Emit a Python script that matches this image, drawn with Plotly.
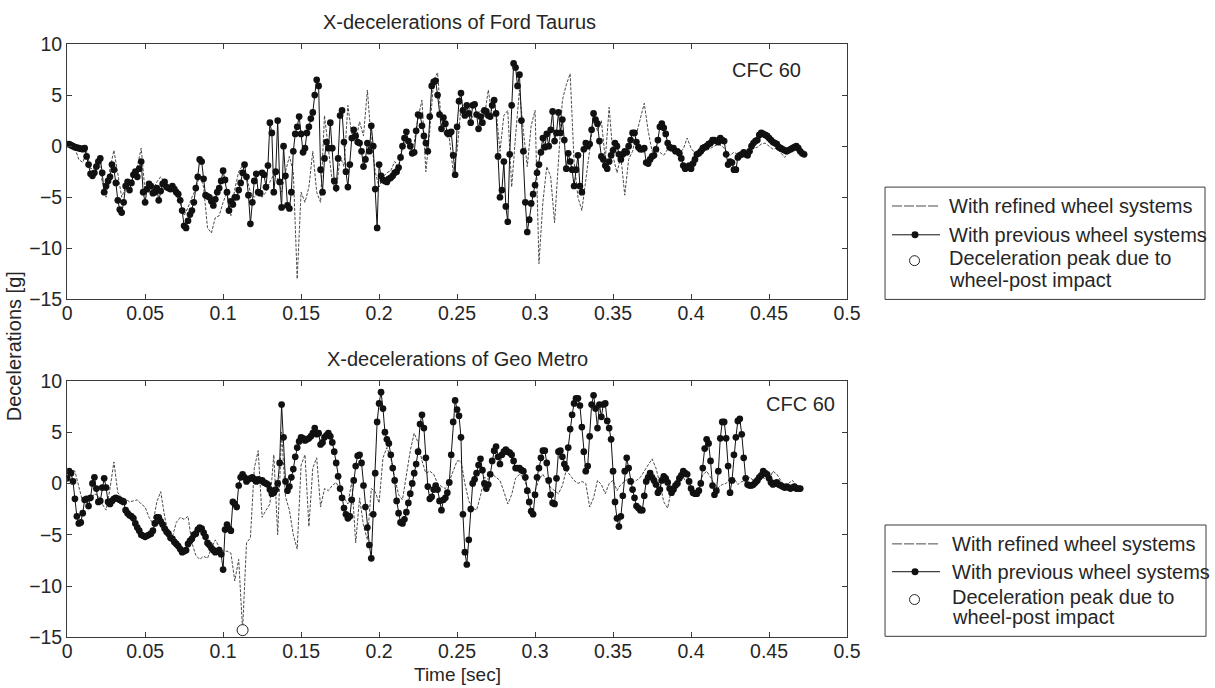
import numpy as np
import plotly.graph_objects as go

# Sampling intervals of the crash-test acceleration records [s]
DT_PREVIOUS = 0.00125
DT_REFINED = 0.0025

# Ford Taurus, x-deceleration [g], CFC 60
taurus_previous = [
    0.2, 0.2, 0.1, 0.0, -0.1, -0.15, -0.2, -0.25, -0.3, -0.2,
    -1.0, -1.8, -2.7, -2.9, -2.6, -2.0, -1.5, -1.2, -2.6, -4.5,
    -3.9, -3.4, -3.0, -1.8, -2.3, -3.6, -5.3, -6.2, -6.5, -5.5,
    -3.9, -3.5, -4.3, -3.6, -2.8, -2.5, -3.0, -2.2, -1.5, -4.5,
    -5.5, -4.2, -3.7, -3.9, -4.6, -4.5, -4.1, -5.3, -4.4, -3.7,
    -3.5, -4.0, -4.1, -4.2, -3.9, -4.2, -4.5, -4.7, -5.3, -6.3,
    -7.8, -8.0, -7.3, -6.7, -6.3, -5.5, -4.1, -3.0, -1.3, -1.5,
    -3.2, -4.8, -4.9, -5.0, -5.4, -5.8, -5.2, -4.5, -4.1, -3.4,
    -2.4, -3.3, -4.5, -6.3, -5.4, -5.7, -5.0, -5.0, -4.3, -3.6,
    -2.6, -1.8, -3.0, -4.8, -7.6, -5.5, -3.4, -2.7, -4.5, -4.6,
    -2.6, -2.8, -4.0, -1.9, 2.3, 1.3, -4.5, -2.5, 2.5, -3.5,
    -6.0, 0.0, -2.9, -5.8, -6.1, -4.5, -0.5, 1.2, 1.9, 2.9,
    1.2, -0.6, -0.2, 1.3, 1.9, 2.7, 3.3, 5.0, 6.5, 5.9,
    -2.3, -4.5, -1.2, 0.4, -0.2, 2.3, -0.2, -3.4, -4.1, -1.2,
    3.0, 3.5, 0.4, -2.5, -4.0, -1.8, 0.8, 1.6, 1.0, 0.4,
    0.3, -0.5, -2.0, -1.3, 0.3, -0.5, 2.0, 0.0, -4.2, -8.0,
    -1.8, -2.9, -3.3, -3.4, -3.5, -3.2, -3.1, -2.9, -2.6, -2.5,
    -2.1, -1.1, 0.0, 0.8, 1.4, 0.5, 0.0, -0.7, -0.6, 1.5,
    3.1, 3.0, 2.0, 1.0, 0.3, -0.5, 2.9, 5.9, 6.3, 6.4,
    5.0, 3.1, 1.7, 2.8, 2.2, 1.3, 1.2, 1.4, -0.9, -2.8,
    1.9, 4.4, 5.2, 3.5, 3.0, 4.0, 3.2, 2.3, 4.0, 4.1,
    3.1, 1.7, 2.9, 2.3, 3.5, 3.4, 3.0, 2.9, 4.0, 4.5,
    3.2, -1.0, -5.0, -4.3, -1.5, -5.9, -7.4, -0.8, 4.0, 8.1,
    7.7, 5.9, 7.0, 2.5, -0.5, -5.5, -8.4, -7.2, -5.6, -4.7,
    -3.8, -2.6, -1.8, -0.6, 0.8, -0.1, 1.2, 0.0, 1.6, 3.4,
    0.5, 1.3, 3.3, 1.3, 2.6, 0.6, -2.2, -0.7, -1.5, -2.3,
    -3.9, -2.3, -0.9, -3.9, -4.5, -0.3, 0.3, 0.0, 0.2, 1.6,
    3.2, 2.6, 2.2, 0.5, -1.0, -1.3, -1.9, -2.2, -1.5, -0.9,
    -0.4, 0.3, 0.0, -0.8, -1.3, -0.8, -0.5, -0.6, 0.0, 0.6,
    1.3, 1.3, 0.4, -0.1, -0.3, -0.3, -0.2, -1.6, -1.7, -1.3,
    -1.0, -0.9, -0.3, 0.6, 1.9, 2.2, 1.8, 1.2, 0.3, -0.1,
    -0.2, -0.2, -0.5, -0.5, -0.7, -1.2, -1.9, -2.2, -2.1, -1.9,
    -2.2, -1.7, -1.3, -0.8, -0.7, -0.5, -0.2, -0.1, 0.0, 0.2,
    0.3, 0.6, 0.6, 0.5, 0.4, 0.8, 0.6, 0.5, -0.8, -1.8,
    -1.5, -1.6, -2.3, -2.3, -1.1, -0.9, -0.8, -0.6, -0.8, -0.9,
    -0.5, 0.0, 0.3, 0.5, 0.6, 1.1, 1.3, 1.2, 1.1, 1.0,
    0.8, 0.6, 0.4, 0.3, 0.2, -0.1, -0.2, -0.3, -0.4, -0.5,
    -0.4, -0.3, -0.2, -0.1, 0.0, -0.2, -0.5, -0.7, -0.8,
]
taurus_refined = [
    0.0, 0.1, -0.2, -1.3, -1.6, -0.5, -2.2, -2.2, -1.0, -3.5,
    -5.0, -2.2, -0.4, -2.5, -5.0, -4.0, -4.5, -2.8, -2.0, -0.2,
    -4.5, -4.5, -4.3, -3.5, -3.0, -3.5, -4.0, -4.5, -4.8, -5.5,
    -6.8, -6.0, -5.0, -4.2, -2.8, -4.0, -8.0, -8.5, -7.0, -6.8,
    -5.5, -4.5, -6.8, -4.2, -2.5, -1.9, -3.0, -4.5, -5.0, -4.5,
    -5.0, -4.5, -3.5, -2.8, -3.2, -4.5, -2.5, -1.0, -2.5, -13.0,
    -4.5, -5.5, -4.0, -0.5, -4.5, -5.5, 3.0, -0.5, -3.5, -4.5,
    -1.0, -2.0, 4.0, 1.0, 0.5, 2.4, 1.0, 5.5, 0.5, -2.5,
    -4.0, -3.0, -2.6, -2.4, -1.5, -2.0, 0.2, 0.6, -0.3, 0.3,
    2.8, 4.5, -2.5, 1.5, 6.5, 7.2, 2.0, 1.0, 0.8, -2.5,
    -0.5, 3.8, 3.5, 3.8, 2.8, 3.0, 3.5, 2.8, 5.5, 3.0,
    3.5, -0.5, 3.0, 3.5, -4.0, 1.0, 5.5, 1.5, -2.0, 2.0,
    3.5, -11.5, -5.5, -2.0, -3.0, -7.5, -2.0, 4.5, 6.0, 7.1,
    -1.5, -5.0, -6.3, -3.3, 0.0, 2.6, 1.5, 2.5, -1.3, 3.8,
    -1.0, -2.6, -1.0, -4.8, -1.3, -0.5, 1.2, 2.6, 4.2, 1.5,
    -0.5, -0.5, -0.6, -0.9, -0.3, -0.2, -0.5, -0.6, -0.3, 0.8,
    -0.2, -0.7, -0.8, -0.6, -0.4, -0.2, 0.0, 0.2, 0.0, -0.5,
    -0.9, -0.6, -0.8, -0.6, -0.6, -0.3, -0.2, -0.1, 0.2, 0.3,
    0.0, -0.3, -0.2, -0.6, -1.1, -0.6, -0.3, -0.3, -0.5, -0.8,
]

# Geo Metro, x-deceleration [g], CFC 60
metro_previous = [
    0.5, 1.2, 1.0, 0.2, -1.5, -3.2, -3.9, -3.8, -2.9, -1.6,
    -1.5, -2.2, -1.4, 0.0, 0.6, -0.5, -1.8, -1.7, -0.4, 0.5,
    -0.4, -1.8, -2.0, -1.7, -1.5, -1.4, -1.5, -1.6, -1.7, -1.8,
    -2.6, -2.9, -3.1, -3.2, -3.4, -3.9, -4.3, -4.6, -5.0, -5.1,
    -5.2, -5.1, -5.0, -4.9, -4.6, -3.9, -3.3, -3.3, -3.7, -4.0,
    -4.4, -4.7, -4.9, -5.3, -5.4, -5.7, -5.9, -6.1, -6.4, -6.7,
    -6.6, -6.5, -5.9, -5.6, -5.4, -5.0, -4.9, -4.5, -4.3, -4.4,
    -4.8, -5.2, -5.8, -6.0, -6.3, -6.5, -6.7, -6.6, -6.5, -6.9,
    -8.4, -4.5, -4.0, -4.4, -4.6, -1.8, -2.0, -2.3, -0.2, 0.6,
    0.9, 0.6, 0.2, 0.4, 0.5, 0.6, 0.4, 0.2, 0.4, 0.3,
    0.3, 0.1, 0.0, -0.1, -0.6, -1.0, -0.9, -0.6, 0.0, 2.0,
    7.7, 4.5, 0.2, -0.7, -0.3, 0.6, 1.4, 2.6, 3.5, 4.1,
    4.5, 4.4, 4.2, 4.3, 4.4, 4.6, 4.9, 5.4, 4.8, 4.9,
    3.8, 4.0, 4.5, 4.7, 4.9, 4.6, 4.0, 3.1, 2.0, 0.7,
    -0.5, -1.4, -2.4, -3.0, -3.4, -3.2, -1.6, 0.3, 1.7, 2.7,
    2.8, 2.0, -0.2, -2.3, -4.3, -6.0, -7.3, -3.0, 1.0, 6.0,
    7.8, 8.9, 7.3, 5.0, 4.3, 3.9, 2.8, 1.5, 0.3, -1.7,
    -2.9, -3.8, -3.9, -3.5, -2.8, -1.9, -1.0, 0.0, 1.0, 1.9,
    3.1, 5.8, 6.7, 5.4, 2.5, -0.3, -1.5, -1.3, -0.6, -0.2,
    -0.6, -1.7, -2.6, -1.6, -1.4, -0.9, 0.1, 2.8, 6.0, 8.1,
    7.2, 6.6, 4.5, -3.0, -6.7, -7.9, -5.5, -2.5, 0.0, 0.4,
    1.0, 1.8, 2.4, 1.3, 0.0, -0.5, -0.1, 0.9, 2.2, 3.2,
    3.6, 2.6, 1.9, 2.8, 3.1, 3.3, 3.1, 3.0, 2.8, 2.2,
    1.5, 1.5, 1.5, 1.3, 1.2, 0.6, -0.7, -1.8, -2.7, -3.0,
    -1.1, 0.6, 1.5, 2.5, 3.2, 3.2, 2.0, 0.3, -1.1, -1.9,
    -2.0, 0.5, 3.1, 3.2, 2.6, 1.9, 1.5, 3.5, 5.3, 6.7,
    7.8, 8.3, 8.3, 7.6, 5.5, 3.1, 1.2, 1.7, 4.6, 7.7,
    8.6, 7.3, 5.4, 7.7, 6.5, 7.7, 7.8, 6.1, 5.4, 4.3,
    1.2, -1.8, -3.4, -4.2, -3.2, -1.2, 1.2, 2.5, 1.5, 0.2,
    -0.6, -1.4, -2.2, -2.4, -2.6, -2.6, -1.2, 0.2, 0.6, 1.0,
    0.6, 0.3, -0.1, -0.9, -0.6, 0.3, 0.7, 0.5, 0.1, -0.5,
    -0.9, -0.6, -0.2, 0.0, 0.5, 0.8, 1.2, 1.0, 0.9, 0.2,
    -0.5, -0.9, -1.0, -1.0, -0.7, 0.0, 1.5, 3.4, 4.3, 3.9,
    2.2, -0.2, -1.1, -0.7, 1.2, 4.4, 6.0, 6.0, 4.4, 1.7,
    -0.9, 0.3, 2.8, 4.5, 6.1, 6.3, 4.8, 2.5, 0.5, -0.1,
    -0.2, -0.2, -0.1, 0.1, 0.3, 0.6, 0.8, 1.2, 1.0, 0.9,
    0.5, 0.1, -0.1, 0.0, 0.1, -0.1, -0.2, -0.3, -0.4, -0.3,
    -0.4, -0.5, -0.4, -0.3, -0.5, -0.5, -0.5,
]
metro_refined = [
    0.9, 1.4, 1.2, -0.2, -1.8, -1.7, -1.6, -1.0, -1.2, -2.0,
    -2.6, -0.5, 2.1, -0.9, -1.4, -1.5, -1.8, -1.7, -1.6, -2.0,
    -2.3, -3.3, -3.9, -1.8, -0.8, -3.2, -5.0, -5.2, -3.8, -3.3,
    -3.5, -3.2, -5.8, -7.0, -7.4, -7.1, -7.3, -6.3, -5.5, -6.2,
    -6.6, -6.6, -6.8, -9.5, -7.4, -14.3, -5.8, -5.3, 1.5, 3.2,
    -3.3, -2.6, -2.0, 2.8, -5.0, 5.0, -1.3, -2.6, -5.0, -6.4,
    1.8, 2.8, -4.2, 1.5, 2.5, -2.3, -0.5, -0.7, -0.2, 0.1,
    -0.7, -1.4, -2.0, 0.2, -5.8, -1.4, -4.1, -5.5, -0.5, -0.8,
    -1.9, 2.5, 3.5, 2.5, 0.6, -1.1, -1.6, 1.0, 3.2, 4.9,
    4.0, 2.2, 1.0, 1.2, 0.9, 0.0, -0.3, -0.5, 0.2, 1.2,
    2.2, 2.2, 0.0, -1.7, -2.4, -2.6, -1.2, 0.6, 0.4, 0.9,
    0.6, 0.3, -0.8, -2.0, -1.1, 0.5, 0.9, 0.6, -0.4, -1.0,
    -0.7, 0.4, 0.9, 0.3, -0.4, -0.7, -1.0, -0.2, 1.3, 0.8,
    0.3, 0.0, 0.2, 0.0, -2.3, -1.4, 0.3, -0.1, -1.0, 0.0,
    0.3, -0.7, -0.1, 0.2, 0.5, 0.1, 0.3, 0.6, 1.2, 1.9,
    2.4, 1.5, 0.0, -1.8, -2.4, -0.5, 0.1, 0.5, 0.6, 0.0,
    -0.6, -0.9, -0.3, 0.8, 1.2, 0.6, -0.1, -0.4, -0.1, 0.0,
    0.5, 0.5, -0.1, 0.2, 0.1, 0.6, 0.3, -0.1, 0.6, 0.5,
    0.3, 1.2, 0.9, 0.3, -0.2, 0.0, 0.3, -0.2, -0.4,
]

# Wheel-post impact peak of the Geo Metro (refined model)
peak_time = [0.1125]
peak_decel = [-14.3]

x_tickvals = [0, 0.05, 0.1, 0.15, 0.2, 0.25, 0.3, 0.35, 0.4, 0.45, 0.5]
x_ticktext = ["0", "0.05", "0.1", "0.15", "0.2", "0.25", "0.3", "0.35", "0.4", "0.45", "0.5"]
y_tickvals = [-15, -10, -5, 0, 5, 10]
y_ticktext = ["\u221215", "\u221210", "\u22125", "0", "5", "10"]

plot_titles = ["X-decelerations of Ford Taurus", "X-decelerations of Geo Metro"]
legend_labels = ["With refined wheel systems", "With previous wheel systems",
                 "Deceleration peak due to", "wheel-post impact"]

# Layout positions below are written on a 1215 x 688 design grid.  The page
# area they are mapped onto is 1234 x 706 CSS px, and the figure starts after
# the default 8 px body margin.
GRID_W, GRID_H = 1215.0, 688.0
PAGE_W, PAGE_H = 1234.0, 706.0
BODY_MARGIN = 8
W, H = int(PAGE_W - BODY_MARGIN), int(PAGE_H - BODY_MARGIN)
FONT = "Liberation Sans, Arial, Helvetica, sans-serif"
TXT = "#262626"
AX = "#3a3a3a"


def px(x):
    return (x * PAGE_W / GRID_W - BODY_MARGIN) / W


def py(y):
    return 1 - (y * PAGE_H / GRID_H - BODY_MARGIN) / H


def times(values, dt):
    return np.arange(len(values)) * dt


fig = go.Figure()

panels = [
    ("x", "y", taurus_refined, taurus_previous),
    ("x2", "y2", metro_refined, metro_previous),
]
for xa, ya, refined, previous in panels:
    fig.add_trace(go.Scatter(
        x=times(refined, DT_REFINED), y=refined, xaxis=xa, yaxis=ya, mode="lines",
        line=dict(color="#4a4a4a", width=1, dash="3px,1.5px"),
        showlegend=False, hoverinfo="skip"))
    fig.add_trace(go.Scatter(
        x=times(previous, DT_PREVIOUS), y=previous, xaxis=xa, yaxis=ya,
        mode="lines+markers",
        line=dict(color="#111111", width=1),
        marker=dict(color="#111111", size=6.7, line=dict(width=0)),
        showlegend=False, hoverinfo="skip"))

fig.add_trace(go.Scatter(
    x=peak_time, y=peak_decel, xaxis="x2", yaxis="y2", mode="markers",
    marker=dict(symbol="circle", size=11, color="white",
                line=dict(color="#222222", width=1)),
    showlegend=False, hoverinfo="skip", cliponaxis=False))

axis_common = dict(
    showline=True, linecolor=AX, linewidth=1, mirror="ticks",
    ticks="inside", ticklen=5, tickcolor=AX, tickwidth=1,
    showgrid=False, zeroline=False,
    tickfont=dict(family=FONT, size=19.5, color=TXT),
)
x_common = dict(range=[0, 0.5], tickvals=x_tickvals, ticktext=x_ticktext,
                ticklabelstandoff=-4, **axis_common)
y_common = dict(range=[-15, 10], tickvals=y_tickvals, ticktext=y_ticktext,
                **axis_common)
xdomain = [px(70), px(850)]
fig.update_layout(
    width=W, height=H,
    margin=dict(l=0, r=0, t=0, b=0),
    paper_bgcolor="white", plot_bgcolor="white",
    xaxis=dict(domain=xdomain, anchor="y", **x_common),
    yaxis=dict(domain=[py(298), py(41)], anchor="x", **y_common),
    xaxis2=dict(domain=xdomain, anchor="y2", **x_common),
    yaxis2=dict(domain=[py(638), py(380)], anchor="x2", **y_common),
    showlegend=False,
)

annotations = []


def text(x, y, s, xanchor="center", angle=0, size=20):
    annotations.append(dict(
        x=px(x), y=py(y), xref="paper", yref="paper", text=s, showarrow=False,
        xanchor=xanchor, yanchor="middle", textangle=angle,
        font=dict(family=FONT, size=size, color=TXT)))


text(462, 19, plot_titles[0])
text(460, 358, plot_titles[1])
text(460, 675, "Time [sec]", size=19)
text(17, 345, "Decelerations [g]", angle=-90)
text(769, 67, "CFC 60")
text(803, 403, "CFC 60")

shapes = []


def legend_box(x0, x1, y0, y1, rows, tx):
    shapes.append(dict(type="rect", xref="paper", yref="paper",
                       x0=px(x0), x1=px(x1), y0=py(y1), y1=py(y0),
                       line=dict(color=AX, width=1), fillcolor="white"))
    r1, r2, r3, r3t, r4 = rows
    shapes.append(dict(type="line", xref="paper", yref="paper",
                       x0=px(895), x1=px(943), y0=py(r1), y1=py(r1),
                       line=dict(color="#4a4a4a", width=1, dash="10px,2px")))
    shapes.append(dict(type="line", xref="paper", yref="paper",
                       x0=px(895), x1=px(943), y0=py(r2), y1=py(r2),
                       line=dict(color="#111111", width=1)))
    shapes.append(dict(type="circle", xref="paper", yref="paper",
                       x0=px(914.5), x1=px(921.5), y0=py(r2 + 3.5), y1=py(r2 - 3.5),
                       line=dict(color="#111111", width=0), fillcolor="#111111"))
    shapes.append(dict(type="circle", xref="paper", yref="paper",
                       x0=px(912.5), x1=px(922.5), y0=py(r3 + 5), y1=py(r3 - 5),
                       line=dict(color="#222222", width=1), fillcolor="white"))
    text(tx, r1, legend_labels[0], xanchor="left")
    text(tx, r2, legend_labels[1], xanchor="left")
    text(tx, r3t, legend_labels[2], xanchor="left")
    text(tx, r4, legend_labels[3], xanchor="left")


legend_box(888, 1208, 185, 298, (204, 233, 259, 256, 278), 950)
legend_box(888, 1209, 525, 637, (544, 572, 600, 597, 618), 953)

fig.update_layout(annotations=annotations, shapes=shapes)

fig.write_html("out.html")
